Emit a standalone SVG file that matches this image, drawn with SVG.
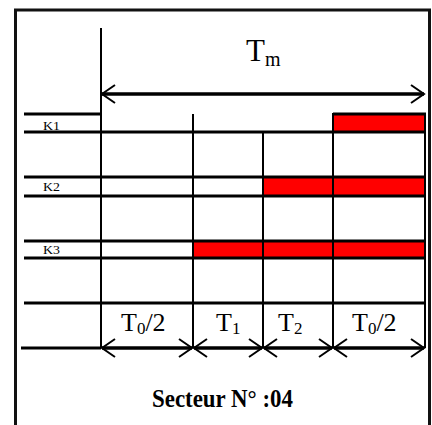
<svg xmlns="http://www.w3.org/2000/svg" width="432" height="425" viewBox="0 0 432 425">
<defs>
<style>
.hl{stroke:#000;stroke-width:3;fill:none}
.vl{stroke:#000;stroke-width:2;fill:none}
.red{fill:#ff0000;stroke:none}
.t{font-family:"Liberation Serif","Times New Roman",serif;fill:#000}
.arr{stroke:#000;stroke-width:3.5;fill:none;marker-start:url(#ah);marker-end:url(#ah)}
</style>
<marker id="ah" markerUnits="userSpaceOnUse" viewBox="-16 -10 18 20" refX="0" refY="0" markerWidth="18" markerHeight="20" orient="auto-start-reverse">
<path d="M-13,-9 L0,0 L-13,9" stroke="#000" stroke-width="2" fill="none"/>
</marker>
</defs>
<rect width="432" height="425" fill="#fff"/>
<g id="frame">
<rect x="15.5" y="10" width="414" height="430" fill="none" stroke="#111" stroke-width="3"/>
</g>
<g id="red-bars">
<rect class="red" x="333" y="114" width="92" height="18"/>
<rect class="red" x="263" y="177" width="162" height="19"/>
<rect class="red" x="193" y="241" width="232" height="17"/>
</g>
<g id="grid">
<line class="vl" x1="101" y1="28" x2="101" y2="348"/>
<line class="vl" x1="193" y1="114" x2="193" y2="348"/>
<line class="vl" x1="263" y1="132" x2="263" y2="348"/>
<line class="vl" x1="333" y1="113" x2="333" y2="348"/>
<line class="vl" x1="425" y1="113" x2="425" y2="348"/>
<line class="hl" x1="24" y1="114" x2="101" y2="114"/>
<line class="hl" x1="333" y1="114" x2="426" y2="114"/>
<line class="hl" x1="24" y1="132" x2="426" y2="132"/>
<line class="hl" x1="24" y1="177" x2="426" y2="177"/>
<line class="hl" x1="24" y1="196" x2="426" y2="196"/>
<line class="hl" x1="24" y1="241" x2="426" y2="241"/>
<line class="hl" x1="24" y1="258" x2="426" y2="258"/>
<line class="hl" x1="24" y1="303" x2="426" y2="303"/>
<line class="hl" x1="21" y1="348" x2="101" y2="348"/>
</g>
<g id="connectors">
<line class="arr" x1="102" y1="94" x2="424" y2="94"/>
<line class="arr" x1="102" y1="348" x2="192" y2="348"/>
<line class="arr" x1="194" y1="348" x2="262" y2="348"/>
<line class="arr" x1="264" y1="348" x2="332" y2="348"/>
<line class="arr" x1="334" y1="348" x2="424" y2="348"/>
</g>
<g id="labels">
<text class="t" x="43" y="130" font-size="12" textLength="17" lengthAdjust="spacingAndGlyphs">K1</text>
<text class="t" x="43" y="191" font-size="12" textLength="17" lengthAdjust="spacingAndGlyphs">K2</text>
<text class="t" x="43" y="254" font-size="12" textLength="17" lengthAdjust="spacingAndGlyphs">K3</text>
<text class="t" x="246" y="61" font-size="31">T<tspan font-size="20" dy="5">m</tspan></text>
<text class="t" x="121" y="331" font-size="26">T<tspan font-size="17" dy="3">0</tspan><tspan dy="-3">/2</tspan></text>
<text class="t" x="216" y="331" font-size="26">T<tspan font-size="17" dy="3">1</tspan></text>
<text class="t" x="278" y="331" font-size="26">T<tspan font-size="17" dy="3">2</tspan></text>
<text class="t" x="352" y="331" font-size="26">T<tspan font-size="17" dy="3">0</tspan><tspan dy="-3">/2</tspan></text>
<text class="t" x="152" y="407" font-size="25" font-weight="bold" textLength="141" lengthAdjust="spacingAndGlyphs">Secteur N° :04</text>
</g>
</svg>
